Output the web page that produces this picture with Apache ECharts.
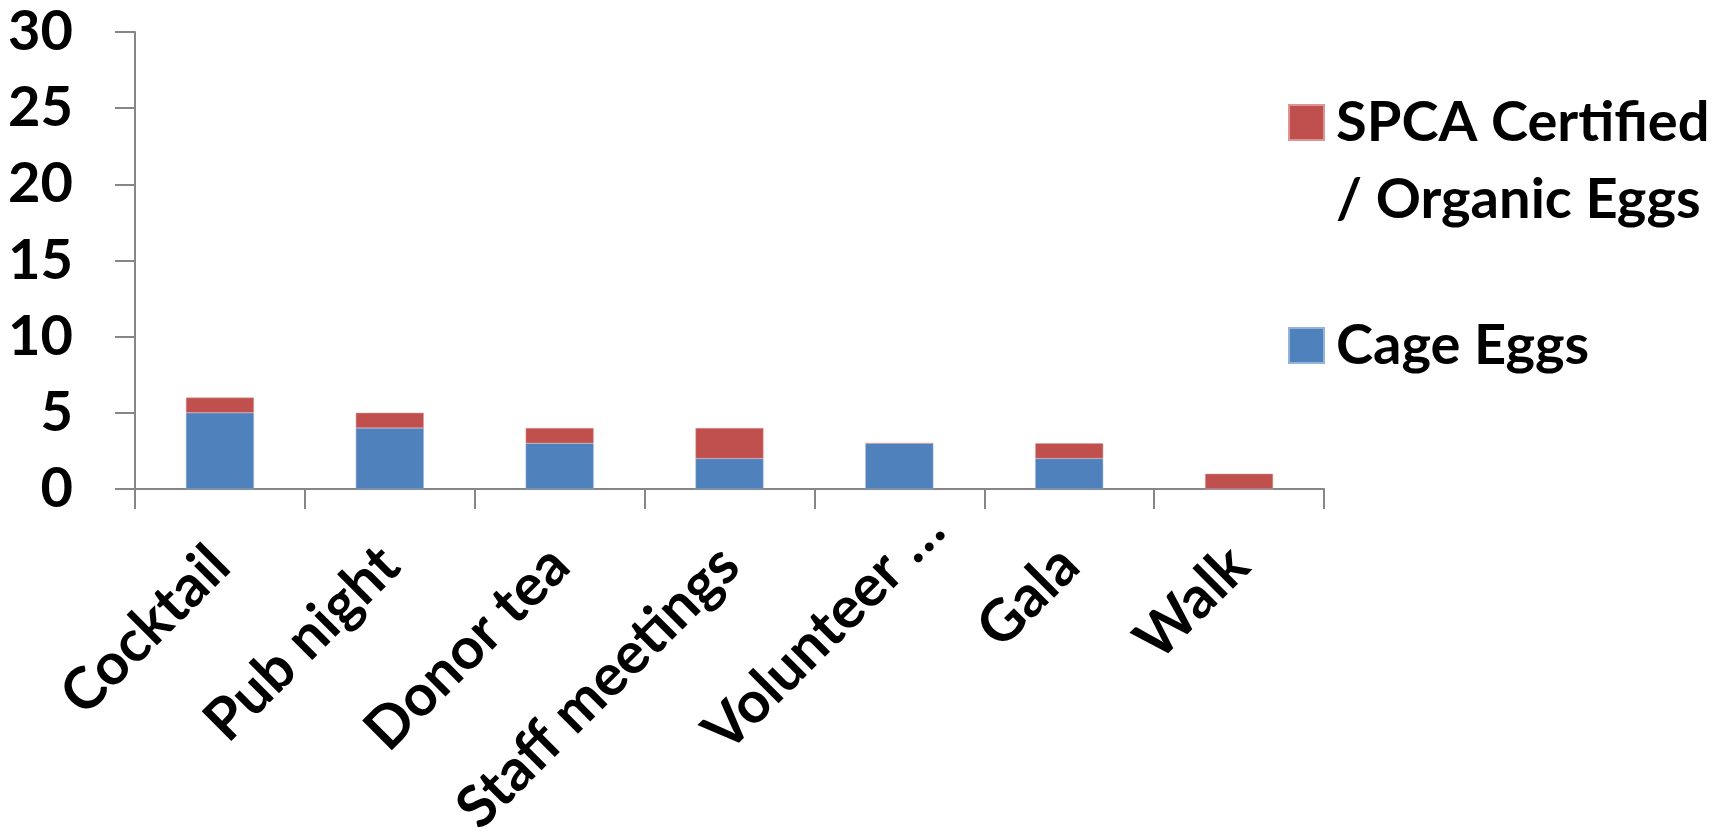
<!DOCTYPE html>
<html>
<head>
<meta charset="utf-8">
<script src="https://cdn.jsdelivr.net/npm/echarts@6/dist/echarts.min.js"></script>
<style>
html,body{margin:0;padding:0;background:#fff;}
#chart{width:1736px;height:838px;}
</style>
</head>
<body>
<div id="chart"></div>
<script>
const categories = ['Cocktail', 'Pub night', 'Donor tea', 'Staff meetings', 'Volunteer …', 'Gala', 'Walk'];
const cageEggs = [5, 4, 3, 2, 3, 2, 0];
const spcaEggs = [1, 1, 1, 2, 0, 1, 1];
const yTicks = [0, 5, 10, 15, 20, 25, 30];
const seriesNames = ['Cage Eggs', 'SPCA Certified\n/ Organic Eggs'];

const FONT = 'Lato';
const chart = echarts.init(document.getElementById('chart'));
const axisColor = '#868686';
// the truncated label sits further along its slant in the reference
const xAxisData = categories.map(c => c.endsWith('…')
  ? { value: c, textStyle: { padding: [0, -50, 0, 0] } }
  : c);
chart.setOption({
  animation: false,
  grid: { left: 135, right: 412, top: 32, bottom: 349, containLabel: false, outerBoundsMode: 'none' },
  legend: [
    {
      data: [seriesNames[1]],
      orient: 'vertical', left: 1283, top: 2,
      itemWidth: 35, itemHeight: 35, icon: 'rect',
      formatter: name => '\n' + name,
      textStyle: { fontFamily: FONT, fontWeight: 'bold', fontSize: 56, lineHeight: 77, color: '#000', padding: [0, 0, 0, 7] }
    },
    {
      data: [seriesNames[0]],
      orient: 'vertical', left: 1283, top: 302,
      itemWidth: 35, itemHeight: 35, icon: 'rect',
      textStyle: { fontFamily: FONT, fontWeight: 'bold', fontSize: 56, lineHeight: 77, color: '#000', padding: [0, 0, 0, 7] }
    }
  ],
  xAxis: {
    type: 'category',
    data: xAxisData,
    axisLine: { lineStyle: { color: axisColor, width: 2 } },
    axisTick: { show: true, length: 20, lineStyle: { color: axisColor, width: 2 } },
    axisLabel: {
      rotate: 45, interval: 0, margin: 67, hideOverlap: false,
      fontFamily: FONT, fontWeight: 'bold', fontSize: 58, color: '#000'
    }
  },
  yAxis: {
    type: 'value', min: 0, max: 30, interval: 5,
    splitLine: { show: false },
    axisLine: { show: true, lineStyle: { color: axisColor, width: 2 } },
    axisTick: { show: true, length: 20, lineStyle: { color: axisColor, width: 2 } },
    axisLabel: {
      margin: 62,
      fontFamily: FONT, fontWeight: 'bold', fontSize: 56, color: '#000',
      formatter: v => (yTicks.includes(v) ? String(v) : '')
    }
  },
  series: [
    {
      name: seriesNames[0], type: 'bar', stack: 'eggs', data: cageEggs,
      barWidth: '40%',
      itemStyle: { color: '#4F81BD', borderColor: '#95B3D7', borderWidth: 0.5 }
    },
    {
      name: seriesNames[1], type: 'bar', stack: 'eggs', data: spcaEggs,
      barWidth: '40%',
      itemStyle: { color: '#C0504D', borderColor: '#D99694', borderWidth: 0.5 }
    }
  ]
});
</script>
</body>
</html>
